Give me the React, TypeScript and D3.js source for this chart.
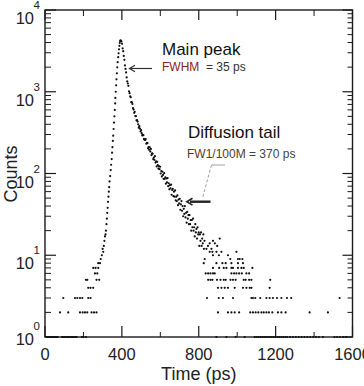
import React from 'react';
import * as d3 from 'd3';

// photon-count histogram, time in ps
const xMajorTicks = [0, 400, 800, 1200, 1600];
const xMinorTicks = [200, 600, 1000, 1400];
const yDecades = [0, 1, 2, 3, 4];

// background before the pulse: [counts, times]
const preRows: [number, number[]][] = [
  [1, [10, 17, 24, 31, 38, 46, 53, 60, 66, 88, 95, 102, 109, 116, 123, 130, 137, 144, 151, 158, 165, 192, 200, 213]],
  [2, [78, 121, 182, 196, 208, 220, 242, 255, 268]],
  [3, [95, 156, 168, 182, 194, 225, 237]],
  [4, [225, 237, 251]],
  [5, [213, 220, 268, 282]],
  [6, [260, 272]],
  [7, [251, 263, 277]],
  [8, [277, 286]],
  [9, [290]],
];

// rising edge up to the peak: [time, counts]
const riseEdge: [number, number][] = [
  [296, 10], [300, 12], [303, 11], [306, 13], [309, 15], [312, 17], [315, 18], [317, 20],
  [320, 24], [322, 28], [324, 33], [326, 38], [328, 45], [330, 52], [332, 60], [334, 68],
  [336, 80], [339, 93], [342, 110], [344, 128], [347, 150], [349, 180], [351, 210], [353, 250],
  [355, 290], [357, 350], [359, 420], [361, 500], [363, 600], [365, 720], [366, 840], [368, 1000],
  [370, 1200], [372, 1420], [374, 1680], [376, 1990], [378, 2300], [381, 2650], [383, 2950],
  [385, 3300], [387, 3650], [389, 3950], [391, 4150], [393, 4250], [395, 4200],
];

// decay after the peak: [time, counts]
const decayTrace: [number, number][] = [
  [398, 4120], [401, 3855], [404, 3388], [407, 3133], [410, 2745], [413, 2460], [416, 2099],
  [419, 1901], [422, 1722], [425, 1496], [428, 1337], [431, 1262], [434, 1180], [437, 1014],
  [440, 962], [443, 881], [446, 857], [449, 746], [452, 740], [455, 708], [458, 630], [461, 605],
  [464, 552], [467, 568], [470, 505], [473, 502], [476, 447], [479, 449], [482, 432], [485, 399],
  [488, 364], [491, 379], [494, 353], [497, 328], [500, 340], [503, 311], [506, 292], [509, 298],
  [512, 294], [515, 265], [518, 259], [521, 257], [524, 264], [527, 231], [530, 237], [533, 235],
  [536, 203], [539, 211], [542, 195], [545, 209], [548, 186], [551, 200], [554, 168], [557, 177],
  [560, 174], [563, 150], [566, 157], [569, 147], [572, 163], [575, 136], [578, 141], [581, 122],
  [584, 139], [587, 127], [590, 115], [593, 123], [596, 113], [599, 121], [602, 100], [605, 107],
  [608, 92], [611, 105], [614, 96], [617, 86], [620, 101], [623, 86], [626, 90], [629, 75],
  [632, 87], [635, 78], [638, 88], [641, 70], [644, 76], [647, 64], [650, 72], [653, 66],
  [656, 73], [659, 55], [662, 63], [665, 65], [668, 53], [671, 60], [674, 52], [677, 62],
  [680, 47], [683, 52], [686, 46], [689, 54], [692, 41], [695, 48], [698, 43], [701, 49],
  [704, 36], [707, 42], [710, 46], [713, 35], [716, 40], [719, 30], [722, 37], [725, 32],
  [728, 40], [731, 29], [734, 33], [737, 25], [740, 34], [743, 28], [746, 31], [749, 24],
  [752, 31], [755, 24], [758, 27], [761, 20], [764, 27], [767, 22], [770, 28], [773, 20],
  [776, 22], [779, 17], [782, 24], [785, 19], [788, 21], [791, 16], [794, 22], [797, 18],
  [800, 19], [803, 13], [806, 18], [809, 15], [812, 19], [815, 13], [818, 16], [821, 14],
  [824, 18], [827, 12], [830, 15],
];

// sparse tail at low counts: [counts, times]
const tailRows: [number, number[]][] = [
  [16, [909]],
  [15, [874]],
  [14, [857, 884]],
  [13, [848, 896]],
  [12, [840, 866]],
  [11, [857, 871, 892, 918, 996]],
  [10, [874, 905, 952]],
  [9, [831, 964, 1004, 1013, 1027]],
  [8, [826, 892, 923, 940, 970, 1004, 1030]],
  [7, [874, 906, 930, 944, 970, 978, 1004, 1022, 1034, 1079]],
  [6, [836, 849, 861, 874, 883, 970, 984, 996, 1010, 1024, 1048, 1062]],
  [5, [849, 861, 871, 895, 913, 930, 940, 965, 978, 992, 1034, 1044, 1062, 1074, 1172]],
  [4, [900, 918, 935, 952, 987, 1030, 1048, 1065, 1074, 1169]],
  [3, [843, 904, 926, 978, 1074, 1082, 1094, 1120, 1152, 1169, 1186, 1207, 1230, 1259, 1281, 1533]],
  [2, [900, 952, 970, 987, 1010, 1068, 1082, 1096, 1110, 1126, 1138, 1152, 1165, 1183, 1212, 1230, 1252, 1377, 1472]],
  [1, [892, 944, 992, 1039, 1091, 1100, 1110, 1120, 1130, 1140, 1150, 1160, 1170, 1180, 1190, 1200,
    1210, 1220, 1230, 1240, 1250, 1260, 1275, 1290, 1305, 1320, 1335, 1350, 1365, 1380, 1395, 1410,
    1425, 1446, 1506, 1520, 1535, 1550, 1567]],
];

const font = '"Liberation Sans", Arial, Helvetica, sans-serif';

export default function App() {
  const width = 364;
  const height = 386;
  const x = d3.scaleLinear().domain([0, 1600]).range([45, 352.5]);
  const y = d3.scaleLog().domain([1, 1e4]).range([337, 10]);
  const [x0, x1] = x.range();
  const [yBottom, yTop] = y.range();

  const points: [number, number][] = [
    ...preRows.flatMap(([c, ts]) => ts.map((t) => [t, c] as [number, number])),
    ...riseEdge,
    ...decayTrace,
    ...tailRows.flatMap(([c, ts]) => ts.map((t) => [t, c] as [number, number])),
  ];

  const minorY = yDecades.slice(0, -1).flatMap((e) => d3.range(2, 10).map((m) => m * 10 ** e));
  const ink = '#1a1a1a';

  return (
    <div style={{ position: 'fixed', left: 0, top: 0 }}>
      <svg width={width} height={height} style={{ display: 'block', background: '#fff' }} fontFamily={font}>
        {/* frame */}
        <rect x={x0} y={yTop} width={x1 - x0} height={yBottom - yTop} fill="none" stroke={ink} strokeWidth={1.4} />

        {/* y ticks, both sides */}
        {yDecades.map((e) => (
          <g key={`yd${e}`} stroke={ink} strokeWidth={1.2}>
            <line x1={x0} x2={x0 + 11} y1={y(10 ** e)} y2={y(10 ** e)} />
            <line x1={x1} x2={x1 - 10} y1={y(10 ** e)} y2={y(10 ** e)} />
          </g>
        ))}
        {minorY.map((v) => (
          <g key={`ym${v}`} stroke={ink} strokeWidth={1}>
            <line x1={x0} x2={x0 + 6} y1={y(v)} y2={y(v)} />
            <line x1={x1} x2={x1 - 5} y1={y(v)} y2={y(v)} />
          </g>
        ))}

        {/* x ticks, bottom and top */}
        {xMajorTicks.map((t) => (
          <g key={`xM${t}`} stroke={ink} strokeWidth={1.2}>
            <line x1={x(t)} x2={x(t)} y1={yBottom} y2={yBottom - 11} />
            <line x1={x(t)} x2={x(t)} y1={yTop} y2={yTop + 10} />
          </g>
        ))}
        {xMinorTicks.map((t) => (
          <g key={`xm${t}`} stroke={ink} strokeWidth={1}>
            <line x1={x(t)} x2={x(t)} y1={yBottom} y2={yBottom - 5} />
            <line x1={x(t)} x2={x(t)} y1={yTop} y2={yTop + 6} />
          </g>
        ))}

        {/* tick labels */}
        {yDecades.map((e) => {
          const dy = e === 0 ? -6 : 0;
          return (
            <g key={`yl${e}`} fill="#222">
              <text x={34} y={y(10 ** e) + 14 + dy} fontSize={16.5} textAnchor="end">10</text>
              <text x={33.5} y={y(10 ** e) - 1 + dy} fontSize={11.5}>{e}</text>
            </g>
          );
        })}
        {xMajorTicks.map((t) => (
          <text key={`xl${t}`} x={x(t)} y={360} fontSize={16.5} textAnchor="middle" fill="#222">{t}</text>
        ))}

        {/* axis titles */}
        <text x={(x0 + x1) / 2} y={380} fontSize={18} textAnchor="middle" fill="#222">Time (ps)</text>
        <text transform={`translate(16.5,174) rotate(-90)`} fontSize={18} textAnchor="middle" fill="#222">Counts</text>

        {/* data */}
        <g fill="#111">
          {points.map(([t, c], i) => (
            <circle key={i} cx={x(t)} cy={y(c)} r={1.1} />
          ))}
        </g>

        {/* main peak annotation */}
        <text x={162} y={54.5} fontSize={17} fill="#111">Main peak</text>
        <text x={162} y={71} fontSize={12} fill="#333" style={{ whiteSpace: 'pre' }}>
          <tspan fill="#8b2414">FWHM</tspan>
          <tspan>{'  = 35 ps'}</tspan>
        </text>
        <g stroke="#333" strokeWidth={1.2} fill="none">
          <line x1={152} x2={129.5} y1={68.5} y2={68.5} />
          <polyline points="135,65.3 129.5,68.5 135,71.7" />
        </g>

        {/* diffusion tail annotation */}
        <text x={188} y={138} fontSize={17} fill="#111">Diffusion tail</text>
        <text x={187} y={157.5} fontSize={12} fill="#444" style={{ whiteSpace: 'pre' }}>
          <tspan fill="#5a3a1c">FW1/100M</tspan>
          <tspan>{' = 370 ps'}</tspan>
        </text>
        <g stroke="#8a8a8a" strokeWidth={0.8} fill="none">
          <line x1={211.5} x2={225} y1={165} y2={165} />
          <line x1={211.5} x2={202.5} y1={165} y2={198} strokeDasharray="3,2" />
        </g>
        <g stroke="#222" fill="none">
          <line x1={190} x2={210.5} y1={201.7} y2={201.7} strokeWidth={2.4} />
          <polyline points="192.5,198.3 186.8,201.7 192.5,205.1" strokeWidth={1.6} />
        </g>
      </svg>
    </div>
  );
}
